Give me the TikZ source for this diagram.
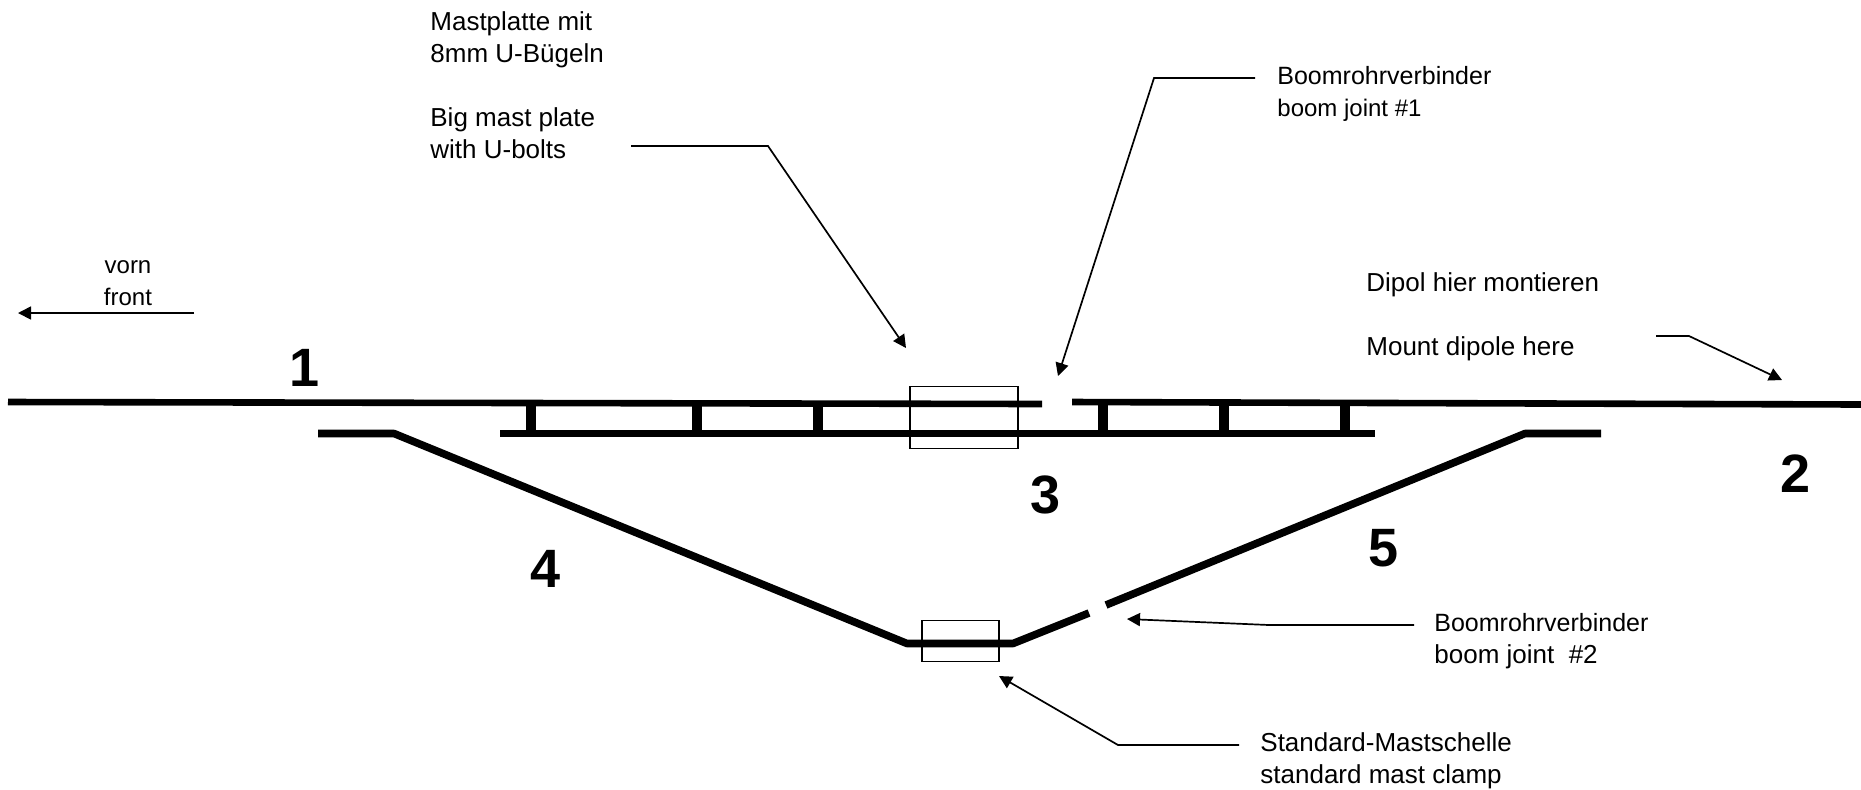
\documentclass[tikz,border=0pt]{standalone}
\usepackage{fontspec}
\setmainfont{Liberation Sans}
\usetikzlibrary{arrows.meta}
\newcommand{\szA}{\fontsize{12.5}{16}\selectfont}
\newcommand{\szB}{\fontsize{12}{16}\selectfont}
\tikzset{
  lbl/.style={anchor=base west,inner sep=0pt,align=left,font=\fontsize{13}{16}\selectfont},
  num/.style={anchor=base,inner sep=0pt,font=\fontsize{27}{30}\selectfont\bfseries},
  leader/.style={draw=black,line width=0.85pt,line join=miter,-{Triangle[length=6.5pt,width=6.5pt]}},
  tube/.style={draw=black,line width=3.3pt},
  rod/.style={draw=black,line width=3.8pt,line join=bevel},
  strut/.style={draw=black,line width=5pt},
  clampbox/.style={draw=black,line width=0.85pt},
}
\begin{document}
\begin{tikzpicture}[x=0.5pt,y=-0.5pt]
\useasboundingbox (0,0) rectangle (1861,789);
% boom tubes
\coordinate (t1a) at (8,402); \coordinate (t1b) at (1042,404);
\coordinate (t2a) at (1072,402); \coordinate (t2b) at (1861,404.5);
\draw[tube] (t1a) -- (t1b);
\draw[tube] (t2a) -- (t2b);
% lower plate rod
\coordinate (r3a) at (500,433.5); \coordinate (r3b) at (1375,433.5);
\draw[rod] (r3a) -- (r3b);
% struts
\foreach \n/\x/\y in {s1/531/402,s2/697/402.5,s3/818/403,s4/1103/402,s5/1224/402,s6/1345/403}{
  \coordinate (\n a) at (\x,\y); \coordinate (\n b) at (\x,433);
  \draw[strut] (\n a) -- (\n b);
}
% lower truss
\coordinate (l1) at (318,433.5); \coordinate (l2) at (394,433.5); \coordinate (l3) at (907,643.5);
\coordinate (l4) at (1013,643.5); \coordinate (l5) at (1089,613);
\coordinate (m1) at (1106,605); \coordinate (m2) at (1525,433.5); \coordinate (m3) at (1601,433.5);
\draw[rod] (l1) -- (l2) -- (l3) -- (l4) -- (l5);
\draw[rod] (m1) -- (m2) -- (m3);
% boxes
\node[clampbox,inner sep=0pt,minimum width=54pt,minimum height=31pt] (plate) at (964,417.5) {};
\node[clampbox,inner sep=0pt,minimum width=38.5pt,minimum height=20.5pt] (clamp) at (960.5,641) {};
% labels
\node[lbl] (lmast) at (430,158) {Mastplatte mit\\8mm U-Bügeln\\[16pt]Big mast plate\\with U-bolts};
\node[lbl] (ljoint1) at (1277,116) {{\szA Boomrohrverbinder}\\{\szB boom joint \#1}};
\node[lbl,align=center,anchor=base,font=\szB] (lfront) at (128,305) {vorn\\front};
\node[lbl] (ldipol) at (1366,355) {Dipol hier montieren\\[16pt]Mount dipole here};
\node[lbl] (ljoint2) at (1434,663) {{\szA Boomrohrverbinder}\\boom joint\ \ \#2};
\node[lbl] (lclamp) at (1260,783) {Standard-Mastschelle\\standard mast clamp};
\node[num] (n1) at (305,386) {1};
\node[num] (n2) at (1795,492) {2};
\node[num] (n3) at (1045,513) {3};
\node[num] (n4) at (546,587) {4};
\node[num] (n5) at (1383,566) {5};
% leaders
\coordinate (a1) at (631,146); \coordinate (a2) at (768,146); \coordinate (a3) at (906,348);
\draw[leader] (a1) -- (a2) -- (a3);
\coordinate (b1) at (1255,78); \coordinate (b2) at (1154,78); \coordinate (b3) at (1058,376);
\draw[leader] (b1) -- (b2) -- (b3);
\coordinate (c1) at (1656,336); \coordinate (c2) at (1689,336); \coordinate (c3) at (1782,380);
\draw[leader] (c1) -- (c2) -- (c3);
\coordinate (d1) at (194,313); \coordinate (d2) at (18,313);
\draw[leader] (d1) -- (d2);
\coordinate (e1) at (1414,625); \coordinate (e2) at (1269,625); \coordinate (e3) at (1127,619);
\draw[leader] (e1) -- (e2) -- (e3);
\coordinate (f1) at (1239,745); \coordinate (f2) at (1118,745); \coordinate (f3) at (999,676);
\draw[leader] (f1) -- (f2) -- (f3);
\end{tikzpicture}
\end{document}
